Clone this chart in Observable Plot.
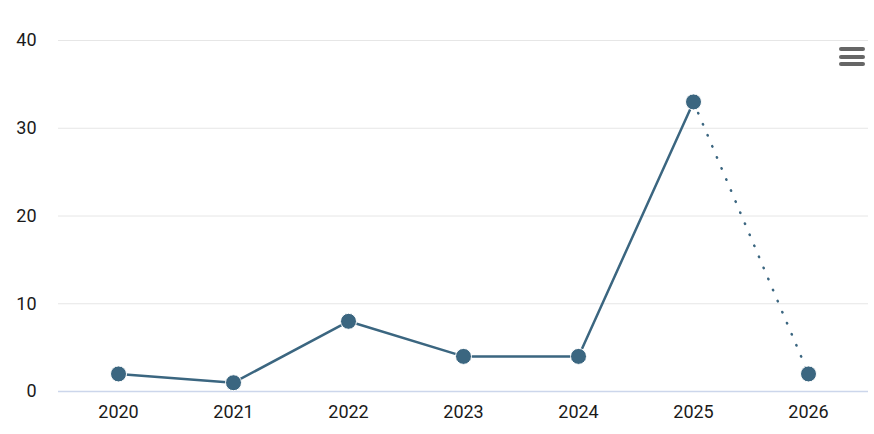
<!DOCTYPE html>
<html>
<head>
<meta charset="utf-8">
<script src="https://cdn.jsdelivr.net/npm/d3@7"></script>
<script src="https://cdn.jsdelivr.net/npm/@observablehq/plot@0.6"></script>
<style>
  html, body { margin: 0; padding: 0; background: #fff; }
  #wrap { position: relative; width: 874px; height: 434px; }
  #menu { position: absolute; left: 839px; top: 47px; width: 26px; }
  #menu div { height: 4px; background: #666; border-radius: 2px; margin-bottom: 3.5px; }
  #chart svg text { font-size: 18px; }
</style>
</head>
<body>
<div id="wrap">
  <div id="chart"></div>
  <div id="menu"><div></div><div></div><div></div></div>
</div>
<script>
const years = ["2020", "2021", "2022", "2023", "2024", "2025", "2026"];
const values = [2, 1, 8, 4, 4, 33, 2];
const yTicks = [0, 10, 20, 30, 40];
const projectedFrom = "2025";

const color = "#3b6680";
const data = years.map((year, i) => ({year, value: values[i]}));
const cut = years.indexOf(projectedFrom);
const solid = data.slice(0, cut + 1);
const dotted = data.slice(cut);

const chart = Plot.plot({
  width: 874,
  height: 434,
  marginLeft: 58,
  marginRight: 6,
  marginTop: 40,
  marginBottom: 43,
  style: { fontFamily: "Roboto, sans-serif", fontSize: "18px", color: "#1a1a1a", background: "#fff" },
  x: { type: "point", domain: years, padding: 0.5, label: null },
  y: { domain: [0, 40], ticks: yTicks, label: null },
  marks: [
    Plot.gridY(yTicks, { stroke: "#e6e6e6", strokeOpacity: 1, strokeWidth: 1 }),
    Plot.ruleY([0], { stroke: "#ccd6eb", strokeWidth: 1.5 }),
    Plot.axisY(yTicks, { tickSize: 0, tickPadding: 22, fontSize: 18, fill: "#1a1a1a" }),
    Plot.axisX({ tickSize: 0, tickPadding: 14, fontSize: 18, fill: "#1a1a1a" }),
    Plot.line(solid, { x: "year", y: "value", stroke: color, strokeWidth: 2.5 }),
    Plot.line(dotted, { x: "year", y: "value", stroke: color, strokeWidth: 2.5, strokeDasharray: "0.5,11.5", strokeLinecap: "round" }),
    Plot.dot(data, { x: "year", y: "value", r: 8, fill: color, stroke: "#fff", strokeWidth: 1 })
  ]
});
document.getElementById("chart").appendChild(chart);
</script>
</body>
</html>
